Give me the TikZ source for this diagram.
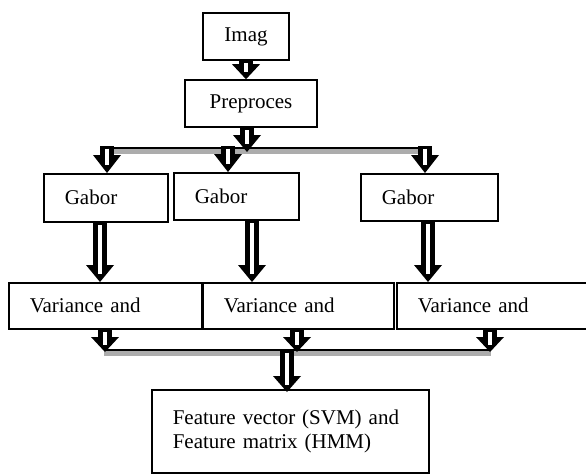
\documentclass[tikz,border=0pt]{standalone}
\usepackage{fontspec}
\setmainfont{Liberation Serif}
\usetikzlibrary{calc}
\tikzset{
  box/.style={draw, line width=1.6pt, anchor=north west, inner xsep=21pt, inner ysep=0pt, align=left, font=\fontsize{21}{24}\selectfont},
  cbox/.style={draw, line width=1.6pt, inner sep=0pt, align=center, font=\fontsize{21}{24}\selectfont},
  busblack/.style={line width=2.6pt, black},
  busgray/.style={line width=5pt, gray!65},
}
\newcommand\blkarrow[3]{% #1 start, #2 tip, #3 head length
  \fill[black] let \p1=(#1), \p2=(#2) in (\x1-6.8pt,\y1) -- (\x1-6.8pt,\y2+#3) -- (\x1-14pt,\y2+#3) -- (\x1,\y2) -- (\x1+14pt,\y2+#3) -- (\x1+6.8pt,\y2+#3) -- (\x1+6.8pt,\y1) -- cycle;
  \draw[white, line width=3.4pt] let \p1=(#1), \p2=(#2) in (\x1,\y1-2.5pt) -- (\x1,\y2+0.45*#3);
}
\begin{document}
\begin{tikzpicture}[x=1pt, y=-1pt]
\useasboundingbox (0,0) rectangle (586,474);
\clip (0,0) rectangle (586,474);
% boxes
\node[cbox, minimum width=86pt, minimum height=47pt] (imag) at (246,36.5) {Imag};
\node[cbox, minimum width=132pt, minimum height=47pt] (pre) at (251,103.5) {Preproces};
\node[box, text width=82pt, minimum height=48pt] (g1) at (43,173) {Gabor};
\node[box, text width=83pt, minimum height=47pt] (g2) at (173,172) {Gabor};
\node[box, text width=95pt, minimum height=47pt] (g3) at (360,173) {Gabor};
\node[box, text width=151pt, minimum height=46pt] (v1) at (8,282) {Variance and};
\node[box, text width=149pt, minimum height=46pt] (v2) at (202,282) {Variance and};
\node[box, text width=162pt, minimum height=46pt] (v3) at (396,282) {Variance and};
\node[box, text width=235pt, minimum height=83pt] (feat) at (151,389) {Feature vector (SVM) and\\Feature matrix (HMM)};
% buses
\coordinate (bA1) at (107,148);
\coordinate (bA2) at (228,148);
\coordinate (bA3) at (425,148);
\draw[busgray] ([yshift=-3.5pt]bA1) -- ([yshift=-3.5pt]bA3);
\draw[busblack] (bA1) -- (bA3);
\coordinate (bB1) at (104,350);
\coordinate (bB3) at (491,350);
\draw[busgray] ([yshift=-3.5pt]bB1) -- ([yshift=-3.5pt]bB3);
\draw[busblack] (bB1) -- (bB3);
% arrows
\blkarrow{imag.south}{pre.north}{15pt}
\coordinate (pT) at (247,152);
\blkarrow{pT |- pre.south}{pT}{17pt}
\blkarrow{[yshift=2pt]bA1}{bA1 |- g1.north}{18pt}
\blkarrow{[yshift=2pt]bA2}{bA2 |- g2.north}{18pt}
\blkarrow{[yshift=2pt]bA3}{bA3 |- g3.north}{18pt}
\coordinate (dx1) at (100,250);
\coordinate (dx2) at (252,250);
\coordinate (dx3) at (428,250);
\blkarrow{dx1 |- g1.south}{dx1 |- v1.north}{17pt}
\blkarrow{dx2 |- g2.south}{dx2 |- v2.north}{17pt}
\blkarrow{dx3 |- g3.south}{dx3 |- v3.north}{17pt}
\coordinate (ex1) at (105,352);
\coordinate (ex2) at (297,352);
\coordinate (ex3) at (490,352);
\blkarrow{ex1 |- v1.south}{ex1}{15pt}
\blkarrow{ex2 |- v2.south}{ex2}{15pt}
\blkarrow{ex3 |- v3.south}{ex3}{15pt}
\coordinate (fx) at (287,350);
\blkarrow{fx}{[yshift=-3pt]fx |- feat.north}{16pt}
\end{tikzpicture}
\end{document}
